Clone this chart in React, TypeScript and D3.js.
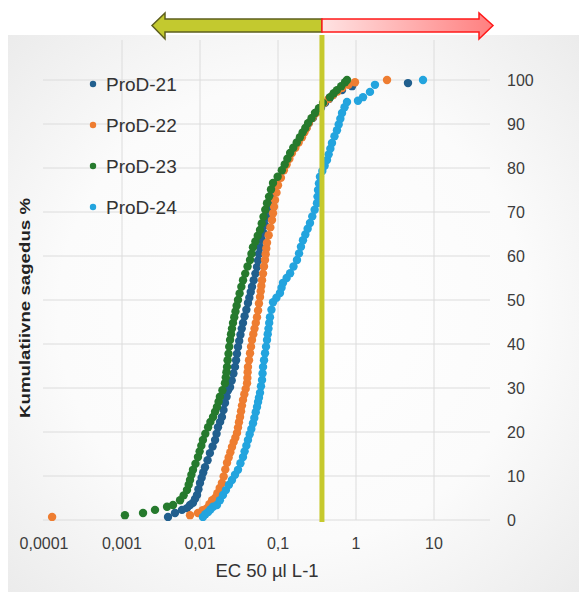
import React from 'react';
import * as d3 from 'd3';

const xTicks = [0.0001, 0.001, 0.01, 0.1, 1, 10];
const xTickLabels = ['0,0001', '0,001', '0,01', '0,1', '1', '10'];
const yTicks = [0, 10, 20, 30, 40, 50, 60, 70, 80, 90, 100];
const seriesNames = ['ProD-21', 'ProD-22', 'ProD-23', 'ProD-24'];
const seriesColors = ['#215f8e', '#ee7d31', '#267a2d', '#23a4de'];
const THRESHOLD = 0.366;
const xTitle = 'EC 50 µl L-1';
const yTitle = 'Kumulatiivne sagedus %';

// [EC50, cumulative %]
const prod21: [number, number][] = [
  [0.00389, 0.7], [0.00478, 1.6], [0.00587, 2.3], [0.00681, 2.7], [0.00745, 3.4], [0.00813, 3.9],
  [0.00863, 4.8], [0.00916, 5.7], [0.00955, 7.0], [0.0100, 8.4], [0.0105, 9.6], [0.0110, 10.8],
  [0.0116, 12.0], [0.0125, 13.6], [0.0134, 15.2], [0.0145, 16.7], [0.0156, 18.2], [0.0163, 19.6],
  [0.0170, 21.1], [0.0181, 22.3], [0.0191, 23.4], [0.0200, 25.0], [0.0209, 26.6], [0.0219, 28.0],
  [0.0229, 29.5], [0.0243, 30.2], [0.0255, 31.7], [0.0268, 33.3], [0.0281, 34.8], [0.0290, 36.3],
  [0.0298, 37.8], [0.0307, 39.3], [0.0318, 40.7], [0.0330, 42.1], [0.0343, 43.5], [0.0356, 44.8],
  [0.0373, 46.3], [0.0393, 47.8], [0.0412, 49.3], [0.0429, 50.5], [0.0447, 51.8], [0.0464, 53.0],
  [0.0488, 54.5], [0.0513, 56.0], [0.0538, 57.5], [0.0555, 59.0], [0.0570, 60.5], [0.0588, 62.0],
  [0.0617, 63.7], [0.0649, 65.3], [0.0681, 67.0], [0.0715, 68.7], [0.0752, 70.3], [0.0789, 72.0],
  [0.0830, 73.4], [0.0871, 74.7], [0.0916, 76.1], [0.103, 77.8], [0.116, 79.5], [0.125, 80.8],
  [0.136, 82.1], [0.147, 83.4], [0.162, 84.6], [0.179, 85.8], [0.197, 87.0], [0.213, 88.1],
  [0.231, 89.1], [0.249, 90.2], [0.281, 91.4], [0.316, 92.7], [0.356, 93.7], [0.401, 94.8],
  [0.451, 95.7], [0.507, 96.6], [0.662, 97.7], [0.889, 98.6], [4.64, 99.3],
];

const prod22: [number, number][] = [
  [0.000127, 0.7], [0.00745, 1.1], [0.00942, 1.6], [0.0108, 2.2], [0.0123, 2.7], [0.0132, 3.6],
  [0.0143, 4.5], [0.0156, 5.0], [0.0167, 6.1], [0.0179, 7.3], [0.0191, 8.4], [0.0201, 9.9],
  [0.0211, 11.5], [0.0222, 13.0], [0.0233, 14.2], [0.0245, 15.4], [0.0257, 16.6], [0.0270, 17.7],
  [0.0284, 18.7], [0.0298, 19.8], [0.0307, 21.0], [0.0316, 22.2], [0.0326, 23.4], [0.0336, 24.7],
  [0.0345, 26.0], [0.0356, 27.3], [0.0370, 28.6], [0.0385, 29.8], [0.0401, 31.1], [0.0405, 32.3],
  [0.0408, 33.6], [0.0412, 34.8], [0.0425, 36.3], [0.0438, 37.9], [0.0451, 39.4], [0.0464, 40.9],
  [0.0482, 42.2], [0.0500, 43.5], [0.0519, 44.8], [0.0538, 46.1], [0.0555, 47.6], [0.0570, 49.2],
  [0.0588, 50.7], [0.0600, 52.0], [0.0611, 53.2], [0.0624, 54.5], [0.0643, 56.0], [0.0661, 57.6],
  [0.0681, 59.1], [0.0695, 60.4], [0.0708, 61.7], [0.0723, 63.0], [0.0759, 64.7], [0.0798, 66.5],
  [0.0838, 68.2], [0.0863, 69.7], [0.0889, 71.2], [0.0916, 72.7], [0.0957, 74.4], [0.100, 76.1],
  [0.109, 77.8], [0.119, 79.5], [0.129, 80.8], [0.140, 82.1], [0.151, 83.4], [0.167, 84.6],
  [0.184, 85.8], [0.203, 87.0], [0.218, 88.1], [0.233, 89.1], [0.249, 90.2], [0.277, 91.4],
  [0.307, 92.5], [0.345, 93.6], [0.389, 94.8], [0.445, 95.7], [0.507, 96.6], [0.579, 97.4],
  [0.662, 98.2], [0.802, 98.9], [0.971, 99.5], [2.50, 100],
];

const prod23: [number, number][] = [
  [0.00109, 1.1], [0.00186, 1.6], [0.00265, 2.3], [0.00378, 3.0], [0.00451, 3.4], [0.00555, 4.5],
  [0.00617, 5.6], [0.00681, 6.8], [0.00716, 8.0], [0.00745, 9.1], [0.00776, 10.3], [0.00813, 11.4],
  [0.00875, 12.8], [0.00942, 14.3], [0.00989, 15.6], [0.0104, 16.9], [0.0109, 18.2], [0.0117, 19.6],
  [0.0127, 21.1], [0.0136, 22.3], [0.0147, 23.4], [0.0156, 24.6], [0.0165, 25.7], [0.0173, 26.9],
  [0.0180, 28.0], [0.0194, 29.5], [0.0209, 31.1], [0.0214, 32.4], [0.0218, 33.6], [0.0222, 34.8],
  [0.0226, 36.3], [0.0232, 37.8], [0.0237, 39.4], [0.0243, 40.9], [0.0250, 42.2], [0.0257, 43.5],
  [0.0265, 44.8], [0.0275, 46.1], [0.0285, 47.4], [0.0295, 48.7], [0.0307, 50.0], [0.0322, 51.5],
  [0.0339, 53.0], [0.0356, 54.5], [0.0380, 56.0], [0.0407, 57.6], [0.0438, 59.1], [0.0457, 60.5],
  [0.0478, 62.0], [0.0513, 63.3], [0.0550, 64.6], [0.0588, 65.9], [0.0619, 67.4], [0.0652, 68.9],
  [0.0687, 70.5], [0.0723, 72.0], [0.0767, 73.5], [0.0813, 75.1], [0.0863, 76.6], [0.0989, 78.0],
  [0.112, 79.5], [0.122, 80.8], [0.132, 82.1], [0.143, 83.4], [0.157, 84.6], [0.174, 85.8],
  [0.191, 87.0], [0.207, 88.1], [0.224, 89.1], [0.243, 90.2], [0.269, 91.3], [0.298, 92.5],
  [0.335, 93.6], [0.378, 94.8], [0.464, 96.1], [0.519, 97.0], [0.570, 97.7], [0.646, 98.6],
  [0.723, 99.5], [0.767, 100],
];

const prod24: [number, number][] = [
  [0.0109, 0.7], [0.0117, 1.3], [0.0127, 1.8], [0.0136, 2.4], [0.0147, 3.0], [0.0165, 3.4],
  [0.0180, 4.5], [0.0197, 5.7], [0.0215, 6.8], [0.0235, 8.0], [0.0257, 9.1], [0.0281, 10.3],
  [0.0307, 11.4], [0.0330, 12.9], [0.0356, 14.3], [0.0373, 15.6], [0.0393, 16.9], [0.0412, 18.2],
  [0.0433, 19.5], [0.0455, 20.7], [0.0478, 22.0], [0.0497, 23.2], [0.0518, 24.5], [0.0538, 25.7],
  [0.0555, 26.8], [0.0570, 27.8], [0.0588, 28.9], [0.0605, 30.4], [0.0624, 31.8], [0.0634, 33.3],
  [0.0643, 34.8], [0.0662, 36.3], [0.0682, 37.9], [0.0702, 39.4], [0.0723, 40.9], [0.0738, 42.2],
  [0.0755, 43.5], [0.0771, 44.8], [0.0789, 46.1], [0.0824, 47.8], [0.0863, 49.5], [0.0955, 50.5],
  [0.106, 51.6], [0.111, 52.8], [0.116, 53.9], [0.129, 55.0], [0.143, 56.1], [0.158, 57.6],
  [0.175, 59.1], [0.186, 60.6], [0.197, 62.1], [0.209, 63.6], [0.224, 64.9], [0.240, 66.2],
  [0.257, 67.5], [0.275, 69.0], [0.295, 70.5], [0.316, 72.0], [0.321, 73.5], [0.326, 75.0],
  [0.335, 76.5], [0.345, 78.0], [0.370, 79.3], [0.396, 80.5], [0.425, 81.8], [0.446, 83.1],
  [0.469, 84.4], [0.492, 85.7], [0.530, 87.2], [0.570, 88.6], [0.600, 89.9], [0.630, 91.2],
  [0.662, 92.5], [0.713, 93.8], [0.767, 95.0], [1.06, 95.3], [1.23, 96.1], [1.51, 97.3],
  [1.75, 98.9], [7.23, 100],
];

const seriesData = [prod21, prod22, prod23, prod24];

export default function App() {
  const W = 579;
  const H = 592;
  const x = d3.scaleLog().domain([0.0001, 10]).range([44, 434]);
  const y = d3.scaleLinear().domain([0, 100]).range([520, 80]);
  const plotLeft = 43;
  const plotRight = 490;
  const gridTop = 40;
  const tx = x(THRESHOLD);

  return (
    <svg
      width={W}
      height={H}
      viewBox={`0 0 ${W} ${H}`}
      style={{ position: 'absolute', left: 0, top: 0, display: 'block' }}
    >
      <defs>
        <radialGradient id="bg" cx="0.5" cy="0.5" r="0.75">
          <stop offset="0" stopColor="#ffffff" />
          <stop offset="0.55" stopColor="#fbfbfb" />
          <stop offset="1" stopColor="#e9e9e9" />
        </radialGradient>
        <linearGradient id="redFill" x1="0" y1="0" x2="1" y2="0">
          <stop offset="0" stopColor="#ffe3e3" />
          <stop offset="1" stopColor="#ff7f7f" />
        </linearGradient>
      </defs>
      <rect x={0} y={0} width={W} height={H} fill="#ffffff" />
      <rect x={8} y={35} width={W - 8} height={H - 35} fill="url(#bg)" />

      {/* gridlines */}
      {yTicks.map((t) => (
        <line key={'h' + t} x1={plotLeft} x2={plotRight} y1={y(t)} y2={y(t)} stroke="#dcdcdc" strokeWidth={1} />
      ))}
      {xTicks.slice(1).map((t) => (
        <line key={'v' + t} x1={x(t)} x2={x(t)} y1={gridTop} y2={y(0)} stroke="#dcdcdc" strokeWidth={1} />
      ))}

      {/* y tick labels (right) */}
      {yTicks.map((t) => (
        <text
          key={'yl' + t}
          x={507}
          y={y(t)}
          dy="0.35em"
          fontFamily="Liberation Sans, Arial, sans-serif"
          fontSize={16}
          fill="#3c3c3c"
        >
          {t}
        </text>
      ))}

      {/* x tick labels */}
      {xTicks.map((t, i) => (
        <text
          key={'xl' + t}
          x={x(t)}
          y={543}
          dy="0.35em"
          textAnchor="middle"
          fontFamily="Liberation Sans, Arial, sans-serif"
          fontSize={16}
          fill="#3c3c3c"
        >
          {xTickLabels[i]}
        </text>
      ))}

      {/* axis titles */}
      <text
        x={267}
        y={577}
        textAnchor="middle"
        fontFamily="Liberation Sans, Arial, sans-serif"
        fontSize={18.5}
        fill="#333333"
      >
        {xTitle}
      </text>
      <text
        transform="translate(30,308) rotate(-90)"
        textAnchor="middle"
        fontFamily="Liberation Sans, Arial, sans-serif"
        fontWeight="bold"
        fontSize={15}
        fill="#222222"
        textLength={220}
        lengthAdjust="spacingAndGlyphs"
      >
        {yTitle}
      </text>

      {/* data points */}
      {seriesData.map((s, si) => (
        <g key={'s' + si}>
          {s.map((d, i) => (
            <circle key={i} cx={x(d[0])} cy={y(d[1])} r={4.2} fill={seriesColors[si]} />
          ))}
        </g>
      ))}

      {/* threshold line */}
      <line x1={tx} x2={tx} y1={35} y2={522} stroke="#c6c92d" strokeWidth={5} />

      {/* arrows */}
      <path
        d={`M ${tx} 19 L 165 19 L 165 13 L 152 25.5 L 165 39 L 165 32 L ${tx} 32 Z`}
        fill="#c3c92f"
        stroke="#5e5f1e"
        strokeWidth={1.5}
        strokeLinejoin="miter"
      />
      <path
        d={`M ${tx} 19 L 479 19 L 479 13 L 493 25.5 L 479 39 L 479 32 L ${tx} 32 Z`}
        fill="url(#redFill)"
        stroke="#ff1a1a"
        strokeWidth={1.5}
        strokeLinejoin="miter"
      />

      {/* legend */}
      {seriesNames.map((n, i) => {
        const ly = 84 + i * 41;
        return (
          <g key={'lg' + i}>
            <circle cx={93} cy={ly} r={3.2} fill={seriesColors[i]} />
            <text
              x={106}
              y={ly}
              dy="0.35em"
              fontFamily="Liberation Sans, Arial, sans-serif"
              fontSize={19}
              fill="#333333"
            >
              {n}
            </text>
          </g>
        );
      })}
    </svg>
  );
}
